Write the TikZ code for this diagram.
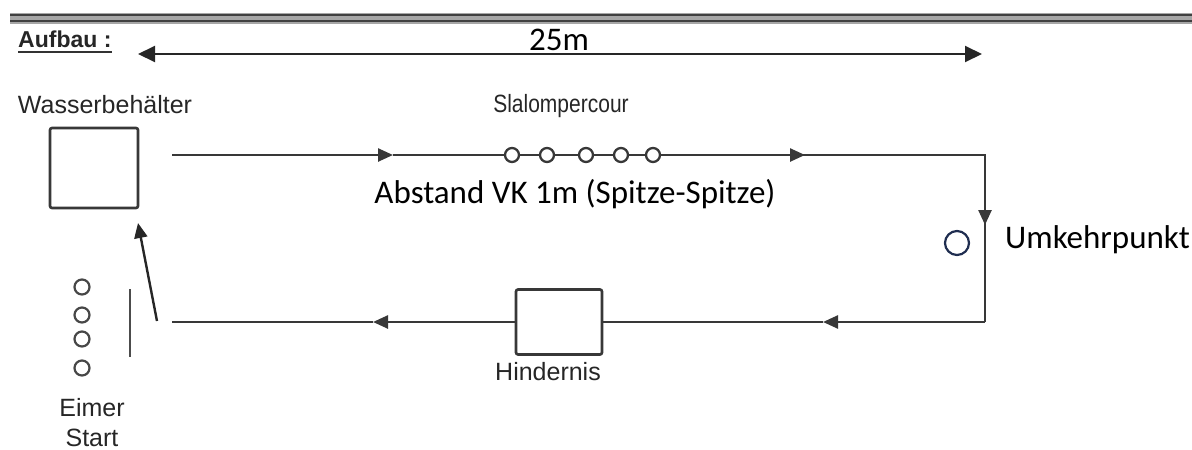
\documentclass[tikz,border=0pt]{standalone}
\usepackage{fontspec}
\setmainfont{Liberation Sans}
\newfontfamily\calfont{Carlito}
\usetikzlibrary{arrows.meta}
\begin{document}
\begin{tikzpicture}[x=1pt,y=-1pt,
  lbl/.style={font=\fontsize{25}{30}\selectfont, inner sep=0pt, text=black!85},
  big/.style={font=\calfont\fontsize{33}{40}\selectfont, inner sep=0pt},
  route/.style={line width=2.5pt, draw=black!78},
  midtip/.style={-{Triangle[length=15pt,width=13pt]}},
  boxstyle/.style={draw=black!78, line width=2.6pt, rounded corners=2pt, fill=white},
  cone/.style={circle, draw=black!78, line width=2.3pt, fill=white, minimum size=14pt, inner sep=0pt},
  bucket/.style={circle, draw=black!72, line width=2.2pt, fill=white, minimum size=15pt, inner sep=0pt}]
\useasboundingbox (0,0) rectangle (1192,450);
% header double line
\fill[black!35] (10,12.5) rectangle (1192,23.5);
\draw[line width=2pt, black!75] (10,15) -- (1192,15);
\draw[line width=2pt, black!75] (10,21) -- (1192,21);
% Aufbau
\node[lbl, font=\bfseries\fontsize{23}{28}\selectfont, anchor=base west] (aufbau) at (18,47) {Aufbau :};
\draw[line width=2.2pt, black!80] ([yshift=-5pt]aufbau.base west) -- ([yshift=-5pt]aufbau.base east);
% 25 m dimension
\coordinate (d1) at (138,54);
\coordinate (d2) at (982,54);
\draw[line width=2pt, black!85, {Triangle[length=17pt,width=16pt]}-{Triangle[length=17pt,width=16pt]}] (d1) -- (d2);
\node[big, anchor=base] (dist) at (559,50) {25m};
% Wasserbehälter
\node[boxstyle, minimum width=88pt, minimum height=80pt] (wb) at (94,168) {};
\node[lbl] (wblbl) at (105,105) {Wasserbehälter};
% route coordinates
\coordinate (s1) at (172,155);
\coordinate (t1) at (393,155);
\coordinate (t2) at (805,155);
\coordinate (c1) at (985,155);
\coordinate (r1) at (985,225);
\coordinate (c2) at (985,322);
\coordinate (b1) at (823,322);
\coordinate (b2) at (373,322);
\coordinate (e1) at (172,322);
% Hindernis
\node[boxstyle, minimum width=86pt, minimum height=65pt] (hind) at (559,322) {};
\node[lbl] (hindlbl) at (548,372) {Hindernis};
% route
\draw[route, midtip] (s1) -- (t1);
\draw[route] (t1) -- (t2);
\draw[route, midtip] (t1) -- (t2);
\draw[route] (t2) -- (c1) -- (c2);
\draw[route, midtip] (c1) -- (r1);
\draw[route, midtip] (c2) -- (b1);
\draw[route] (b1) -- (hind.east);
\draw[route, midtip] (hind.west) -- (b2);
\draw[route] (b2) -- (e1);
% slalom cones
\node[cone] (k1) at (512,155) {};
\node[cone] (k2) at (547,155) {};
\node[cone] (k3) at (586,155) {};
\node[cone] (k4) at (621,155) {};
\node[cone] (k5) at (653,155) {};
\node[lbl, xscale=0.84] (slalbl) at (561,106) {Slalompercour};
\node[big] (abst) at (575,194) {Abstand VK 1m (Spitze-Spitze)};
% Umkehrpunkt
\node[circle, draw={rgb,255:red,31;green,45;blue,80}, line width=2.2pt, minimum size=24pt, inner sep=0pt] (uk) at (957,243) {};
\node[big, anchor=west] (uklbl) at (1005,240) {Umkehrpunkt};
% start: buckets, line, arrow to water tank
\coordinate (sl) at (157,321);
\coordinate (tip) at (138,223);
\draw[line width=2.4pt, black!85, -{Triangle[length=15pt,width=13pt]}] (sl) -- (tip);
\coordinate (bar1) at (130,289);
\coordinate (bar2) at (130,357);
\draw[line width=2.5pt, black!70] (bar1) -- (bar2);
\node[bucket] (e1b) at (82,287) {};
\node[bucket] (e2b) at (82,315) {};
\node[bucket] (e3b) at (82,339) {};
\node[bucket] (e4b) at (82,368) {};
\node[lbl] (eimer) at (92,408) {Eimer};
\node[lbl] (start) at (92,438) {Start};
\end{tikzpicture}
\end{document}
